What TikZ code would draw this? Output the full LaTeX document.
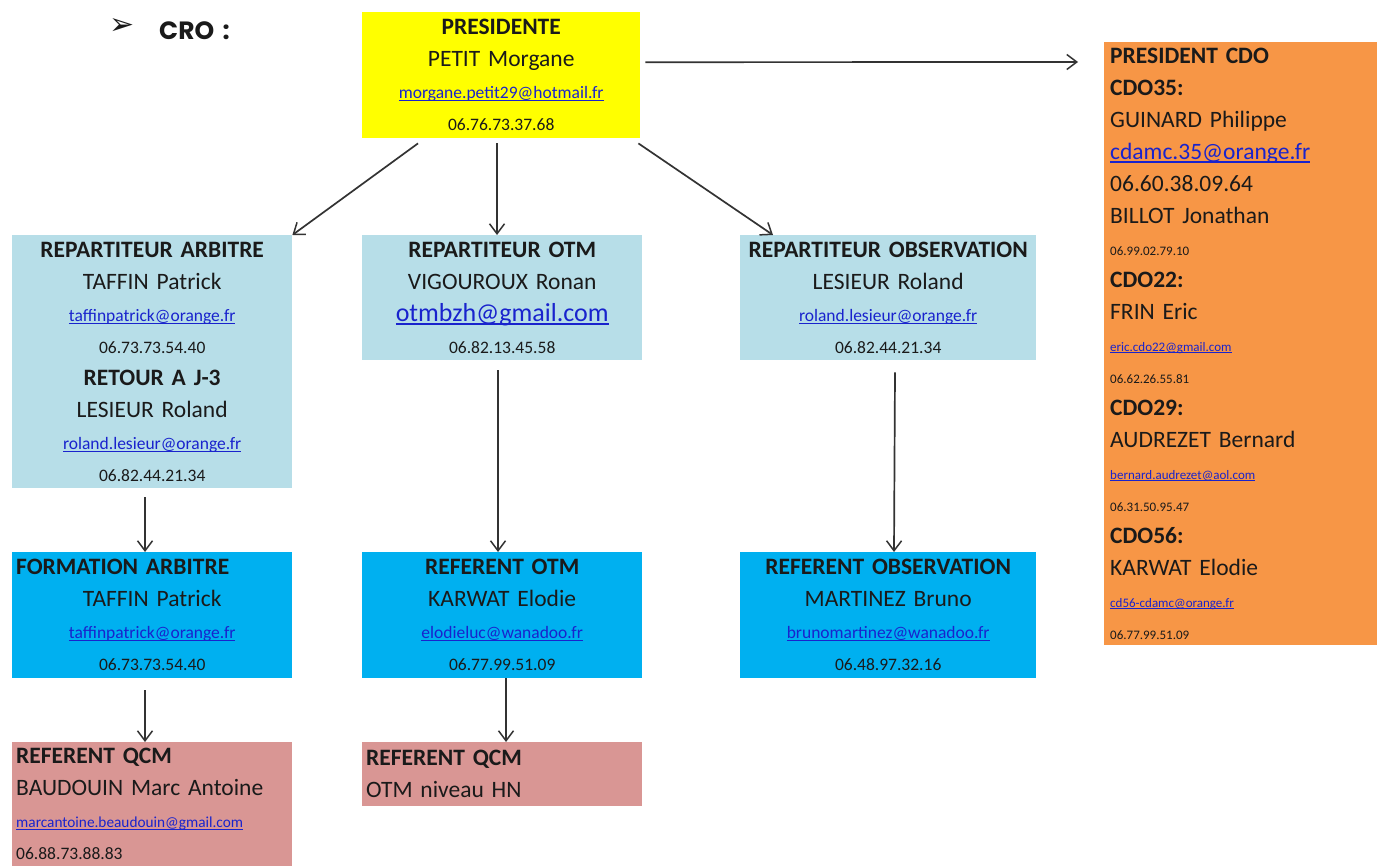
\documentclass[tikz,border=0pt]{standalone}
\usepackage{fontspec}
\setmainfont[WordSpace=0.85]{Carlito}
\newfontfamily\popfont{Poppins}
\newfontfamily\djvfont{DejaVu Sans}
\usetikzlibrary{arrows.meta}
\definecolor{presy}{HTML}{FFFF00}
\definecolor{lblue}{HTML}{B7DEE8}
\definecolor{cyanb}{HTML}{00B0F0}
\definecolor{pinkb}{HTML}{D99694}
\definecolor{orangeb}{HTML}{F79646}
\definecolor{txt}{HTML}{1A1A1A}
\definecolor{linkblue}{RGB}{25,35,205}
\newcommand\szL{\fontsize{23.5}{32}\selectfont}
\newcommand\szX{\fontsize{26}{32}\selectfont}
\newcommand\szM{\fontsize{17.5}{32}\selectfont}
\newcommand\szS{\fontsize{13}{32}\selectfont}
\newcommand\lnkx[1]{\textcolor{linkblue}{\setbox0\hbox{#1}\rlap{\rule[-0.14em]{\wd0}{0.065em}}\box0}}
\begin{document}
\begin{tikzpicture}[x=1pt,y=-1pt,
  box/.style={draw=none, inner sep=0pt, anchor=north west, align=center, font=\szL, text=txt},
  lbox/.style={box, align=left},
  arr/.style={line width=1.7pt, draw=black!80, -{Straight Barb[length=10pt,width=15pt,line width=1.5pt]}}]
\useasboundingbox[fill=white] (0,0) rectangle (1377,866);

% title
\node[font=\djvfont\fontsize{30}{32}\selectfont, inner sep=0pt, text=txt] (bul) at (122,27) {➢};
\node[font=\popfont\bfseries\fontsize{25}{28}\selectfont, anchor=west, inner sep=0pt, text=txt] (cro) at (159,31) {CRO\,\,:};

% president
\node[box, fill=presy, minimum width=278pt, minimum height=126pt, text width=270pt] (pres) at (362,12)
 {{\bfseries PRESIDENTE}\\ PETIT Morgane\\ {\szM\lnkx{morgane.petit29@hotmail.fr}}\\ {\szM 06.76.73.37.68}};

% repartiteurs
\node[box, fill=lblue, minimum width=280pt, minimum height=253pt, text width=272pt] (repA) at (12,235)
 {{\bfseries REPARTITEUR ARBITRE}\\ TAFFIN Patrick\\ {\szM\lnkx{taffinpatrick@orange.fr}}\\ {\szM 06.73.73.54.40}\\
  {\bfseries RETOUR A J-3}\\ LESIEUR Roland\\ {\szM\lnkx{roland.lesieur@orange.fr}}\\ {\szM 06.82.44.21.34}};
\node[box, fill=lblue, minimum width=280pt, minimum height=125pt, text width=272pt] (repO) at (362,235)
 {{\bfseries REPARTITEUR OTM}\\ VIGOUROUX Ronan\\ {\szX\lnkx{otmbzh@gmail.com}}\\ {\szM 06.82.13.45.58}};
\node[box, fill=lblue, minimum width=296pt, minimum height=125pt, text width=290pt] (repB) at (740,235)
 {{\bfseries REPARTITEUR OBSERVATION}\\ LESIEUR Roland\\ {\szM\lnkx{roland.lesieur@orange.fr}}\\ {\szM 06.82.44.21.34}};

% referents
\node[box, fill=cyanb, minimum width=280pt, minimum height=126pt, text width=272pt] (form) at (12,552)
 {\makebox[\linewidth][l]{\bfseries FORMATION ARBITRE}\\ TAFFIN Patrick\\ {\szM\lnkx{taffinpatrick@orange.fr}}\\ {\szM 06.73.73.54.40}};
\node[box, fill=cyanb, minimum width=280pt, minimum height=126pt, text width=272pt] (refO) at (362,552)
 {{\bfseries REFERENT OTM}\\ KARWAT Elodie\\ {\szM\lnkx{elodieluc@wanadoo.fr}}\\ {\szM 06.77.99.51.09}};
\node[box, fill=cyanb, minimum width=296pt, minimum height=126pt, text width=290pt] (refB) at (740,552)
 {{\bfseries REFERENT OBSERVATION}\\ MARTINEZ Bruno\\ {\szM\lnkx{brunomartinez@wanadoo.fr}}\\ {\szM 06.48.97.32.16}};

% QCM
\node[lbox, fill=pinkb, minimum width=280pt, minimum height=124pt, text width=272pt] (q1) at (12,742)
 {{\bfseries REFERENT QCM}\\ BAUDOUIN Marc Antoine\\ {\fontsize{15.3}{32}\selectfont\lnkx{marcantoine.beaudouin@gmail.com}}\\ {\szM 06.88.73.88.83}};
\node[lbox, fill=pinkb, minimum width=280pt, minimum height=64pt, text width=272pt] (q2) at (362,742)
 {{\bfseries REFERENT QCM}\\ OTM niveau HN};

% CDO
\node[lbox, fill=orangeb, minimum width=273pt, minimum height=603pt, text width=261pt] (cdo) at (1104,42)
 {{\bfseries PRESIDENT CDO}\\ {\bfseries CDO35:}\\ GUINARD Philippe\\ \lnkx{cdamc.35@orange.fr}\\ 06.60.38.09.64\\ BILLOT Jonathan\\
  {\szS 06.99.02.79.10}\\ {\bfseries CDO22:}\\ FRIN Eric\\ {\szS\lnkx{eric.cdo22@gmail.com}}\\ {\szS 06.62.26.55.81}\\
  {\bfseries CDO29:}\\ AUDREZET Bernard\\ {\szS\lnkx{bernard.audrezet@aol.com}}\\ {\szS 06.31.50.95.47}\\
  {\bfseries CDO56:}\\ KARWAT Elodie\\ {\szS\lnkx{cd56-cdamc@orange.fr}}\\ {\szS 06.77.99.51.09}};

% connectors
\draw[arr] ([shift={(5,-13)}]pres.east) -- ([shift={(-26,20)}]cdo.north west);
\draw[arr] ([shift={(56,5)}]pres.south west) -- (repA.north east);
\draw[arr] ([shift={(135,5)}]pres.south west) -- ([shift={(135,0)}]repO.north west);
\draw[arr] ([shift={(-2,5)}]pres.south east) -- ([shift={(33,0)}]repB.north west);
\draw[arr] ([shift={(133,9)}]repA.south west) -- ([shift={(133,0)}]form.north west);
\draw[arr] ([shift={(136,10)}]repO.south west) -- ([shift={(136,0)}]refO.north west);
\draw[arr] ([shift={(155,12)}]repB.south west) -- ([shift={(154,0)}]refB.north west);
\draw[arr] ([shift={(133,12)}]form.south west) -- ([shift={(133,0)}]q1.north west);
\draw[arr] ([shift={(144,0)}]refO.south west) -- ([shift={(144,0)}]q2.north west);
\end{tikzpicture}
\end{document}
